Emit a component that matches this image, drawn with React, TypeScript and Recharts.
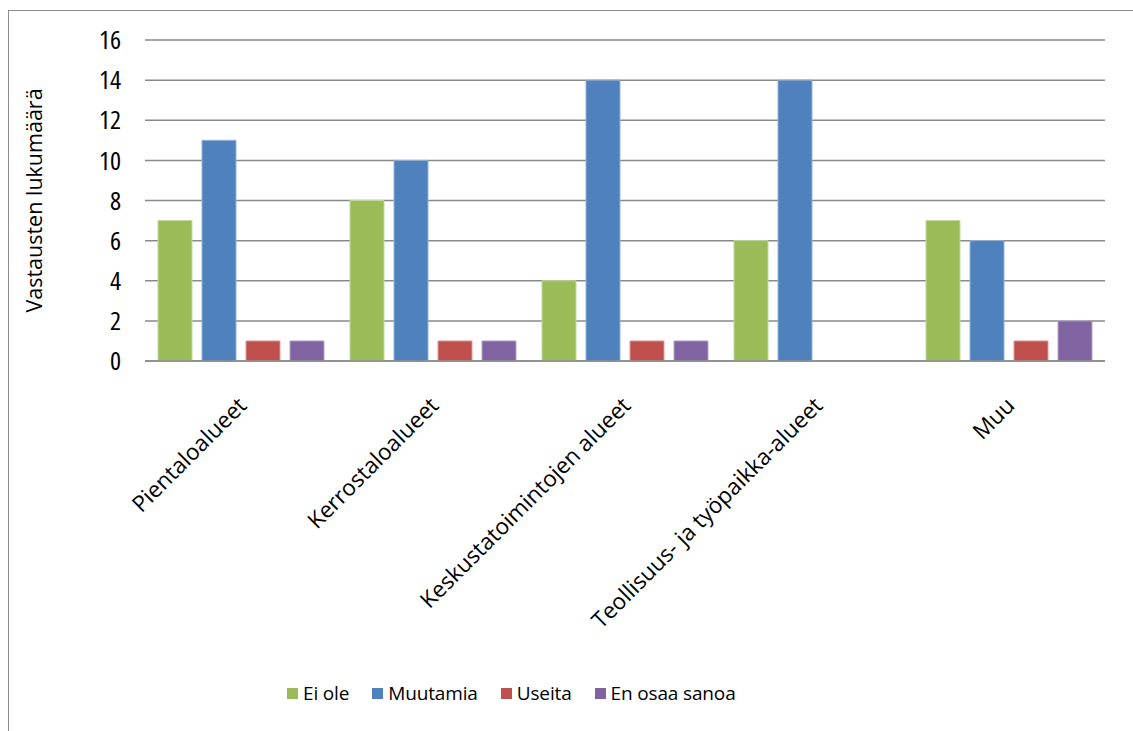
import React from 'react';
import { BarChart, Bar, XAxis, YAxis, CartesianGrid, Legend, Label } from 'recharts';

const categories = [
  'Pientaloalueet',
  'Kerrostaloalueet',
  'Keskustatoimintojen alueet',
  'Teollisuus- ja työpaikka-alueet',
  'Muu',
];
const eiOle = [7, 8, 4, 6, 7];
const muutamia = [11, 10, 14, 14, 6];
const useita = [1, 1, 1, 0, 1];
const enOsaaSanoa = [1, 1, 1, 0, 2];
const yTicks = [0, 2, 4, 6, 8, 10, 12, 14, 16];

const series = [
  { key: 'eiOle', name: 'Ei ole', color: '#9BBB59', edge: '#c4d79c' },
  { key: 'muutamia', name: 'Muutamia', color: '#4F81BD', edge: '#93b1d6' },
  { key: 'useita', name: 'Useita', color: '#C0504D', edge: '#dc9896' },
  { key: 'enOsaaSanoa', name: 'En osaa sanoa', color: '#8064A2', edge: '#b4a3c9' },
];

const data = categories.map((name, i) => ({
  name,
  eiOle: eiOle[i],
  muutamia: muutamia[i],
  useita: useita[i],
  enOsaaSanoa: enOsaaSanoa[i],
}));

const FONT = '"Open Sans", Calibri, sans-serif';

const CategoryTick = ({ x, y, payload }: any) => (
  <text
    x={x + 7}
    y={y + 46}
    transform={`rotate(-45, ${x + 7}, ${y + 46})`}
    textAnchor="end"
    fontFamily={FONT}
    fontSize={22.5}
    fill="#000"
  >
    {payload.value}
  </text>
);

const LegendContent = () => (
  <div
    style={{
      display: 'flex',
      alignItems: 'center',
      height: 30,
      fontFamily: FONT,
      fontSize: 19,
      letterSpacing: -0.15,
      color: '#000',
    }}
  >
    {series.map((s) => (
      <div key={s.key} style={{ display: 'flex', alignItems: 'center', marginRight: 23 }}>
        <div style={{ width: 11, height: 11, background: s.color, marginRight: 5 }} />
        <span>{s.name}</span>
      </div>
    ))}
  </div>
);

export default function App() {
  return (
    <div style={{ position: 'fixed', left: 0, top: 0, width: 1133, height: 731, overflow: 'hidden', background: '#fff' }}>
      <div style={{ position: 'absolute', left: 8, top: 10, width: 1200, height: 800, border: '1px solid #8c8c8c' }}>
        <BarChart
          width={1124}
          height={720}
          data={data}
          margin={{ top: 29, right: 28, left: 0, bottom: 0 }}
          barSize={34}
          barGap={10}
        >
          <CartesianGrid vertical={false} stroke="#8a8a8a" strokeWidth={1.5} />
          <XAxis
            dataKey="name"
            height={340}
            interval={0}
            tick={<CategoryTick />}
            tickLine={false}
            tickSize={0}
            tickMargin={0}
            axisLine={{ stroke: '#8a8a8a', strokeWidth: 1.5 }}
          />
          <YAxis
            width={136}
            domain={[0, 16]}
            ticks={yTicks}
            interval={0}
            axisLine={false}
            tickLine={false}
            tickSize={0}
            tickMargin={24}
            tick={{ fill: '#000', fontSize: 26, fontFamily: FONT, style: { fontStretch: '87.5%' } }}
          >
            <Label
              content={({ viewBox }: any) => {
                const cx = viewBox.x + 24;
                const cy = viewBox.y + viewBox.height / 2;
                return (
                  <text
                    x={cx}
                    y={cy}
                    transform={`rotate(-90, ${cx}, ${cy})`}
                    textAnchor="middle"
                    dominantBaseline="central"
                    fontFamily={FONT}
                    fontSize={21.5}
                    fill="#000"
                  >
                    Vastausten lukumäärä
                  </text>
                );
              }}
            />
          </YAxis>
          <Legend
            verticalAlign="bottom"
            content={<LegendContent />}
            wrapperStyle={{ top: 667, bottom: 'auto', left: 278, width: 'auto', height: 30 }}
          />
          {series.map((s) => (
            <Bar
              key={s.key}
              dataKey={s.key}
              name={s.name}
              fill={s.color}
              stroke={s.edge}
              strokeWidth={1}
              isAnimationActive={false}
            />
          ))}
        </BarChart>
      </div>
    </div>
  );
}
